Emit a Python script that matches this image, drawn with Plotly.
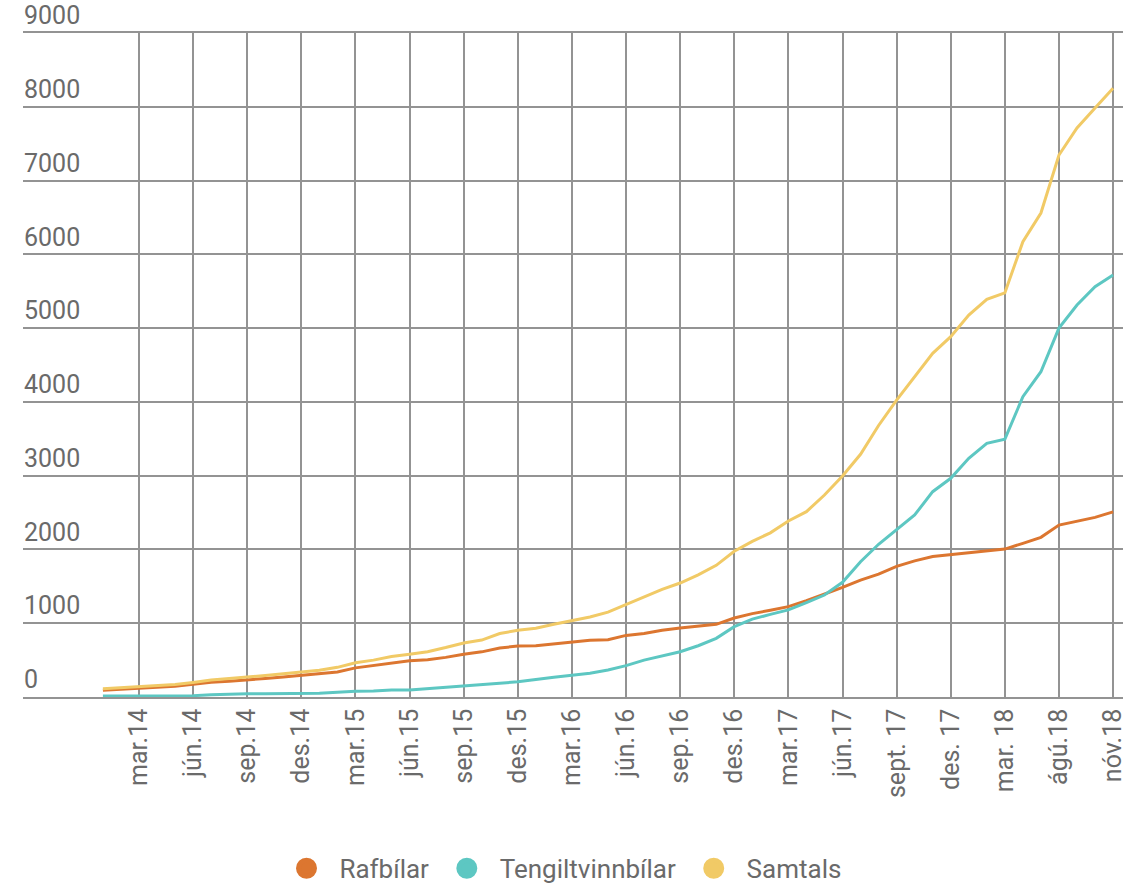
import plotly.graph_objects as go

# Month categories (one per data point)
months = [
    "jan.14", "feb.14", "mar.14", "apr.14", "maí.14", "jún.14", "júl.14", "ágú.14", "sep.14", "okt.14", "nóv.14", "des.14",
    "jan.15", "feb.15", "mar.15", "apr.15", "maí.15", "jún.15", "júl.15", "ágú.15", "sep.15", "okt.15", "nóv.15", "des.15",
    "jan.16", "feb.16", "mar.16", "apr.16", "maí.16", "jún.16", "júl.16", "ágú.16", "sep.16", "okt.16", "nóv.16", "des.16",
    "jan.17", "feb.17", "mar.17", "apr.17", "maí.17", "jún.17", "júl.17", "ágú.17", "sept. 17", "okt.17", "nóv.17", "des. 17",
    "jan.18", "feb.18", "mar. 18", "maí.18", "júl.18", "ágú.18", "sep.18", "okt.18", "nóv.18",
]

# Tick labels shown on the x axis
tick_labels = [
    "mar.14", "jún.14", "sep.14", "des.14",
    "mar.15", "jún.15", "sep.15", "des.15",
    "mar.16", "jún.16", "sep.16", "des.16",
    "mar.17", "jún.17", "sept. 17", "des. 17",
    "mar. 18", "ágú.18", "nóv.18",
]

y_ticks = [0, 1000, 2000, 3000, 4000, 5000, 6000, 7000, 8000, 9000]

rafbilar = [
    90, 105, 120, 135, 145, 172, 200, 215, 228, 250, 272, 295,
    310, 340, 395, 428, 460, 490, 505, 537, 580, 612, 665, 690,
    695, 718, 748, 770, 775, 835, 862, 905, 935, 962, 985, 1070,
    1130, 1175, 1225, 1305, 1390, 1485, 1585, 1665, 1770, 1845, 1905, 1932,
    1960, 1982, 2005, 2083, 2164, 2330, 2385, 2435, 2510,
]

tengiltvinnbilar = [
    12, 13, 14, 15, 16, 18, 30, 40, 44, 45, 46, 47,
    50, 65, 78, 80, 95, 95, 112, 126, 148, 158, 185, 207,
    240, 267, 294, 321, 366, 425, 500, 555, 614, 695, 795, 953,
    1055, 1120, 1180, 1280, 1382, 1554, 1834, 2070, 2263, 2467, 2783, 2964,
    3235, 3438, 3495, 4070, 4409, 5000, 5313, 5561, 5720,
]

samtals = [
    112, 125, 138, 155, 170, 198, 230, 250, 268, 292, 315, 342,
    362, 402, 465, 500, 548, 580, 614, 670, 732, 772, 860, 905,
    932, 985, 1035, 1085, 1150, 1255, 1360, 1459, 1545, 1655, 1785, 1975,
    2110, 2225, 2385, 2512, 2738, 2995, 3290, 3680, 4025, 4342, 4658, 4884,
    5177, 5390, 5478, 6171, 6560, 7346, 7712, 7983, 8250,
]

series = [
    ("Rafbílar", rafbilar, "#dc7630"),
    ("Tengiltvinnbílar", tengiltvinnbilar, "#5dc7c2"),
    ("Samtals", samtals, "#f1ca66"),
]

NB = "\u00a0"

fig = go.Figure()
for name, vals, col in series:
    fig.add_trace(go.Scatter(
        x=months, y=vals, mode="lines", name=name,
        line=dict(color=col, width=3), legendgroup=name, showlegend=False,
    ))
for k, (name, vals, col) in enumerate(series):
    fig.add_trace(go.Scatter(
        x=[None], y=[None], mode="markers", name=NB * 2 + name + NB * 2,
        legendgroup=name, yaxis="y2" if k == 0 else "y",
        marker=dict(color=col, size=16, symbol="circle", line=dict(color=col, width=5)),
        showlegend=True, hoverinfo="skip",
    ))

grid = "#939393"
font_col = "#6a6a6a"
fig.update_layout(
    width=1141, height=883,
    margin=dict(l=23, r=18, t=33, b=186, autoexpand=False),
    paper_bgcolor="white", plot_bgcolor="white",
    font=dict(family="Roboto", size=25, color=font_col),
    showlegend=True,
    legend=dict(
        orientation="h", x=0.5, xanchor="center", y=-0.258, yanchor="middle",
        font=dict(size=26, color=font_col), itemsizing="trace",
    ),
    xaxis=dict(
        type="category", categoryorder="array", categoryarray=months,
        range=[-4.43, 56.55], automargin=False,
        tickmode="array", tickvals=tick_labels, ticktext=tick_labels,
        tickangle=-90, showgrid=True, gridcolor=grid, gridwidth=1.5,
        showline=True, mirror=True, linecolor=grid, linewidth=1.5,
        zeroline=False, ticks="",
        tickfont=dict(size=25, color=font_col),
    ),
    yaxis=dict(
        range=[0, 9000], tickvals=y_ticks, automargin=False,
        showgrid=True, gridcolor=grid, gridwidth=1.5,
        zeroline=True, zerolinecolor=grid, zerolinewidth=1.5,
        showline=False, showticklabels=False, ticks="",
    ),
    yaxis2=dict(
        overlaying="y", side="right", anchor="free", position=0,
        range=[0, 9000], tickvals=y_ticks, automargin=False,
        showgrid=False, zeroline=False, showline=False, ticks="",
        ticklabelposition="outside top",
        tickfont=dict(size=25, color=font_col),
    ),
)

fig.write_html(
    "out.html",
    config={"displayModeBar": False},
    post_script="document.body.style.margin='0';",
)
